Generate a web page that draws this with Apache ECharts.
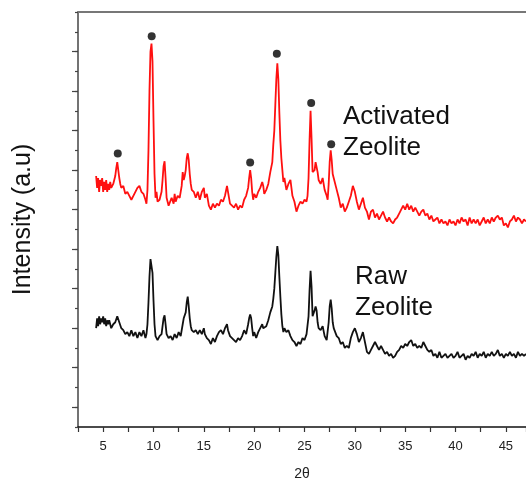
<!DOCTYPE html>
<html lang="en">
<head>
    <meta charset="UTF-8">
    <title>XRD zeolite</title>
    <script src="https://cdn.jsdelivr.net/npm/echarts@6/dist/echarts.min.js"></script>
    <style>
        html, body { margin: 0; padding: 0; background: #fff; }
    </style>
</head>
<body>
<div id="main" style="width: 526px;height:479px;"></div>
<script type="text/javascript">
    // 2θ, intensity (a.u.)
    var activated = [
        [4.3,12.7],[4.4,12.1],[4.5,12.6],[4.6,11.9],[4.7,12.5],[4.8,12.2],[4.9,12.6],[5.0,11.9],
        [5.1,12.4],[5.2,12.0],[5.3,12.5],[5.4,11.9],[5.5,12.3],[5.6,12.0],[5.7,12.4],[5.8,12.1],
        [5.9,12.0],[6.0,12.3],[6.1,12.2],[6.2,12.7],[6.3,13.1],[6.4,13.4],[6.5,13.0],[6.6,12.6],
        [6.7,12.3],[6.8,12.1],[7.0,12.2],[7.2,11.8],[7.4,11.9],[7.6,11.7],[7.8,11.5],[8.0,11.7],
        [8.2,11.9],[8.4,12.1],[8.6,12.2],[8.8,11.9],[9.0,11.8],[9.2,11.5],[9.3,11.3],[9.4,12.0],
        [9.5,14.0],[9.6,17.0],[9.7,19.0],[9.8,19.4],[9.9,18.5],[10.0,15.5],[10.1,12.8],[10.2,11.6],
        [10.3,11.9],[10.4,11.4],[10.6,11.5],[10.8,11.9],[10.9,12.5],[11.0,13.2],[11.1,13.45],[11.2,12.6],
        [11.3,11.6],[11.5,11.2],[11.6,11.1],[11.8,11.6],[12.0,11.3],[12.1,11.8],[12.2,11.4],[12.4,11.7],
        [12.6,11.6],[12.8,12.2],[12.9,12.9],[13.0,12.5],[13.1,12.7],[13.2,13.0],[13.3,13.6],[13.4,13.85],
        [13.5,13.5],[13.6,12.8],[13.7,12.3],[13.8,12.0],[14.0,11.9],[14.2,11.6],[14.4,11.9],[14.6,11.5],
        [14.8,11.9],[15.0,12.1],[15.1,11.6],[15.3,11.8],[15.5,11.2],[15.7,11.0],[15.9,11.3],[16.1,11.1],
        [16.3,11.3],[16.5,11.2],[16.7,11.5],[16.9,11.4],[17.1,11.7],[17.3,12.2],[17.4,11.9],[17.6,11.3],
        [17.8,11.2],[18.0,11.1],[18.2,11.3],[18.4,11.0],[18.6,11.2],[18.8,11.1],[19.0,11.5],[19.2,11.7],
        [19.4,12.1],[19.5,12.6],[19.6,13.0],[19.7,12.6],[19.8,11.9],[19.9,11.5],[20.0,11.8],[20.2,11.6],
        [20.4,11.9],[20.6,12.1],[20.8,12.4],[20.9,12.2],[21.0,11.8],[21.2,12.0],[21.4,12.3],[21.6,12.9],
        [21.8,13.4],[21.9,14.3],[22.0,15.0],[22.1,16.3],[22.2,17.6],[22.3,18.4],[22.4,17.6],[22.5,15.9],
        [22.6,14.5],[22.7,13.6],[22.8,13.0],[22.9,12.4],[23.0,12.6],[23.2,12.0],[23.4,12.3],[23.6,12.5],
        [23.8,11.7],[24.0,11.4],[24.2,10.9],[24.4,11.2],[24.6,11.4],[24.8,11.3],[25.0,11.5],[25.2,11.4],
        [25.3,11.7],[25.4,12.6],[25.5,14.5],[25.6,16.0],[25.7,14.6],[25.8,12.9],[25.9,12.8],[26.0,13.0],
        [26.1,13.4],[26.2,13.5],[26.3,12.9],[26.4,12.5],[26.6,12.3],[26.8,12.6],[27.0,12.0],[27.2,11.7],
        [27.3,11.5],[27.4,12.3],[27.5,13.4],[27.6,14.0],[27.7,13.5],[27.8,12.8],[27.9,12.6],[28.0,12.7],
        [28.2,12.0],[28.4,11.6],[28.6,11.1],[28.8,11.3],[29.0,10.9],[29.2,11.1],[29.4,11.4],[29.6,11.7],
        [29.8,12.2],[29.9,12.3],[30.0,11.9],[30.2,11.4],[30.4,11.0],[30.6,11.3],[30.8,11.6],[31.0,11.1],
        [31.2,10.9],[31.4,10.5],[31.6,10.9],[31.8,11.0],[32.0,10.6],[32.2,10.8],[32.4,10.5],[32.6,10.7],
        [32.8,10.9],[33.0,10.6],[33.2,10.4],[33.4,10.6],[33.6,10.4],[33.8,10.3],[34.0,10.5],[34.2,10.6],
        [34.4,10.8],[34.6,11.0],[34.8,11.2],[35.0,11.0],[35.2,11.3],[35.4,11.0],[35.6,11.2],[35.8,10.9],
        [36.0,11.1],[36.2,10.9],[36.4,10.7],[36.6,10.9],[36.8,11.0],[37.0,10.7],[37.2,10.8],[37.4,10.5],
        [37.6,10.7],[37.8,10.4],[38.0,10.5],[38.2,10.6],[38.4,10.3],[38.6,10.5],[38.8,10.3],[39.0,10.4],
        [39.2,10.2],[39.4,10.5],[39.6,10.3],[39.8,10.4],[40.0,10.2],[40.2,10.5],[40.4,10.3],[40.6,10.6],
        [40.8,10.4],[41.0,10.5],[41.2,10.2],[41.4,10.6],[41.6,10.3],[41.8,10.5],[42.0,10.3],[42.2,10.5],
        [42.4,10.2],[42.6,10.4],[42.8,10.6],[43.0,10.3],[43.2,10.5],[43.4,10.3],[43.6,10.6],[43.8,10.4],
        [44.0,10.6],[44.2,10.7],[44.4,10.5],[44.6,10.6],[44.8,10.2],[45.0,10.3],[45.2,10.1],[45.4,10.4],
        [45.6,10.5],[45.8,10.7],[46.0,10.4],[46.2,10.6],[46.4,10.5],[46.6,10.3],[46.8,10.5],[47.0,10.4]
    ];

    var raw = [
        [4.3,5.0],[4.4,5.5],[4.5,5.1],[4.6,5.6],[4.7,5.2],[4.8,5.5],[4.9,5.3],[5.0,5.6],
        [5.1,5.2],[5.2,5.5],[5.3,5.1],[5.4,5.4],[5.5,5.2],[5.6,5.4],[5.8,5.0],[6.0,5.2],
        [6.2,5.3],[6.4,5.6],[6.6,5.3],[6.8,5.0],[7.0,4.9],[7.2,4.7],[7.4,4.8],[7.6,4.6],
        [7.8,4.9],[8.0,4.6],[8.2,4.8],[8.4,4.5],[8.6,4.8],[8.8,4.6],[9.0,4.9],[9.2,4.5],
        [9.3,4.7],[9.4,5.2],[9.5,6.3],[9.6,7.6],[9.7,8.5],[9.8,8.5],[9.9,7.8],[10.0,6.4],
        [10.1,5.2],[10.2,4.6],[10.4,4.4],[10.6,4.6],[10.8,4.7],[10.9,5.1],[11.0,5.5],[11.1,5.65],
        [11.2,5.2],[11.3,4.7],[11.5,4.5],[11.7,4.6],[11.9,4.4],[12.1,4.7],[12.3,4.5],[12.5,4.8],
        [12.7,4.6],[12.9,5.2],[13.0,5.5],[13.1,5.4],[13.2,5.8],[13.3,6.3],[13.4,6.6],[13.5,6.1],
        [13.6,5.5],[13.7,5.1],[13.8,4.9],[14.0,4.8],[14.2,4.9],[14.4,4.7],[14.6,4.9],[14.8,4.7],
        [15.0,5.0],[15.1,4.7],[15.3,4.5],[15.5,4.4],[15.7,4.2],[15.9,4.5],[16.1,4.3],[16.3,4.6],
        [16.5,4.8],[16.7,4.9],[16.9,4.7],[17.1,5.0],[17.3,5.2],[17.4,4.9],[17.6,4.6],[17.8,4.5],
        [18.0,4.4],[18.2,4.3],[18.4,4.5],[18.6,4.4],[18.8,4.6],[19.0,4.9],[19.2,4.7],[19.4,5.2],
        [19.5,5.5],[19.6,5.7],[19.7,5.5],[19.8,5.0],[19.9,4.6],[20.0,4.8],[20.2,4.5],[20.4,4.8],
        [20.6,5.0],[20.8,5.2],[20.9,5.0],[21.0,4.9],[21.2,5.1],[21.4,5.4],[21.6,5.8],[21.8,6.1],
        [21.9,6.5],[22.0,7.0],[22.1,7.8],[22.2,8.6],[22.3,9.15],[22.4,8.7],[22.5,7.6],[22.6,6.6],
        [22.7,5.7],[22.8,5.1],[22.9,4.8],[23.0,5.0],[23.2,4.8],[23.4,4.9],[23.6,4.6],[23.8,4.4],
        [24.0,4.3],[24.2,4.1],[24.4,4.3],[24.6,4.2],[24.8,4.5],[25.0,4.4],[25.2,4.7],[25.3,4.8],
        [25.4,5.6],[25.5,6.9],[25.6,7.9],[25.7,7.1],[25.8,5.6],[25.9,5.5],[26.0,5.9],[26.1,6.1],
        [26.2,5.9],[26.3,5.3],[26.4,5.0],[26.6,4.9],[26.8,5.1],[27.0,4.6],[27.2,4.4],[27.3,4.5],
        [27.4,5.3],[27.5,6.1],[27.6,6.45],[27.7,6.0],[27.8,5.3],[27.9,5.0],[28.0,5.0],[28.2,4.6],
        [28.4,4.5],[28.6,4.2],[28.8,4.3],[29.0,4.0],[29.2,4.1],[29.4,4.0],[29.6,4.5],[29.8,4.8],
        [30.0,5.0],[30.2,4.7],[30.4,4.3],[30.6,4.5],[30.8,4.8],[31.0,4.3],[31.2,3.8],[31.4,3.7],
        [31.6,3.9],[31.8,4.1],[32.0,4.3],[32.2,4.1],[32.4,3.9],[32.6,4.1],[32.8,3.9],[33.0,3.7],
        [33.2,3.8],[33.4,3.6],[33.6,3.7],[33.8,3.5],[34.0,3.6],[34.2,3.8],[34.4,3.9],[34.6,4.1],
        [34.8,4.0],[35.0,4.2],[35.2,4.1],[35.4,4.3],[35.6,4.4],[35.8,4.1],[36.0,4.2],[36.2,4.0],
        [36.4,4.1],[36.6,4.0],[36.8,4.3],[37.0,4.1],[37.2,3.9],[37.4,3.8],[37.6,3.9],[37.8,3.6],
        [38.0,3.7],[38.2,3.5],[38.4,3.8],[38.6,3.5],[38.8,3.6],[39.0,3.7],[39.2,3.5],[39.4,3.6],
        [39.6,3.7],[39.8,3.5],[40.0,3.6],[40.2,3.8],[40.4,3.5],[40.6,3.6],[40.8,3.7],[41.0,3.4],
        [41.2,3.6],[41.4,3.5],[41.6,3.7],[41.8,3.6],[42.0,3.8],[42.2,3.5],[42.4,3.7],[42.6,3.6],
        [42.8,3.8],[43.0,3.5],[43.2,3.7],[43.4,3.6],[43.6,3.8],[43.8,3.6],[44.0,3.7],[44.2,3.9],
        [44.4,3.6],[44.6,3.7],[44.8,3.5],[45.0,3.7],[45.2,3.6],[45.4,3.8],[45.6,3.6],[45.8,3.7],
        [46.0,3.5],[46.2,3.8],[46.4,3.6],[46.6,3.7],[46.8,3.6],[47.0,3.7]
    ];

    // peaks marked with a dot above the activated pattern
    var peakMarks = [[6.45,13.84],[9.82,19.77],[19.6,13.38],[22.25,18.89],[25.66,16.4],[27.65,14.31]];

    // long ticks on the intensity axis
    var yLongTicks = [1,3,5,7,9,11,13,15,17,19];

    var font = 'Liberation Sans, Arial, sans-serif';

    var chart = echarts.init(document.getElementById('main'));

    chart.setOption({
        animation: false,
        grid: { left: 78, right: 0, top: 12, bottom: 52, containLabel: false, outerBoundsMode: 'none' },
        xAxis: [
            {
                type: 'value',
                position: 'bottom',
                min: 2.5,
                max: 47,
                interval: 2.5,
                name: '2θ',
                nameLocation: 'middle',
                nameGap: 40,
                nameTextStyle: { fontFamily: font, fontSize: 14, color: '#222' },
                axisLine: { onZero: false, lineStyle: { color: '#111', width: 1.5 } },
                axisTick: { length: 5, lineStyle: { color: '#333', width: 1.2 } },
                axisLabel: {
                    margin: 13,
                    fontFamily: font,
                    fontSize: 13,
                    color: '#222',
                    formatter: function (v) { return v % 5 === 0 ? String(v) : ''; }
                },
                splitLine: { show: false }
            },
            {
                type: 'value',
                position: 'top',
                min: 2.5,
                max: 47,
                axisLine: { show: true, onZero: false, lineStyle: { color: '#777', width: 2 } },
                axisTick: { show: false },
                axisLabel: { show: false },
                splitLine: { show: false }
            }
        ],
        yAxis: [
            {
                type: 'value',
                position: 'left',
                min: 0,
                max: 21,
                interval: 1,
                name: 'Intensity (a.u)',
                nameLocation: 'middle',
                nameGap: 42,
                nameTextStyle: { fontFamily: font, fontSize: 25, color: '#111' },
                axisLine: { show: true, onZero: false, lineStyle: { color: '#444', width: 1.5 } },
                axisTick: { length: 3, lineStyle: { color: '#444', width: 1.2 } },
                axisLabel: { show: false },
                splitLine: { show: false }
            },
            {
                type: 'value',
                position: 'left',
                min: 0,
                max: 21,
                axisLine: { show: false, onZero: false },
                axisTick: { show: true, length: 6, customValues: yLongTicks, lineStyle: { color: '#444', width: 1.2 } },
                axisLabel: { show: false },
                splitLine: { show: false }
            }
        ],
        graphic: [
            {
                type: 'text',
                left: 343,
                top: 101,
                style: { text: 'Activated\nZeolite', font: '26px ' + font, lineHeight: 31, fill: '#111' }
            },
            {
                type: 'text',
                left: 355,
                top: 261,
                style: { text: 'Raw\nZeolite', font: '26px ' + font, lineHeight: 31, fill: '#111' }
            }
        ],
        series: [
            {
                name: 'Activated Zeolite',
                type: 'line',
                data: activated,
                showSymbol: false,
                lineStyle: { color: '#ff1010', width: 1.8 },
                z: 2
            },
            {
                name: 'Raw Zeolite',
                type: 'line',
                data: raw,
                showSymbol: false,
                lineStyle: { color: '#111', width: 1.8 },
                z: 2
            },
            {
                name: 'peaks',
                type: 'scatter',
                data: peakMarks,
                symbolSize: 8,
                itemStyle: { color: '#000' },
                z: 3
            }
        ]
    });
</script>
</body>
</html>
